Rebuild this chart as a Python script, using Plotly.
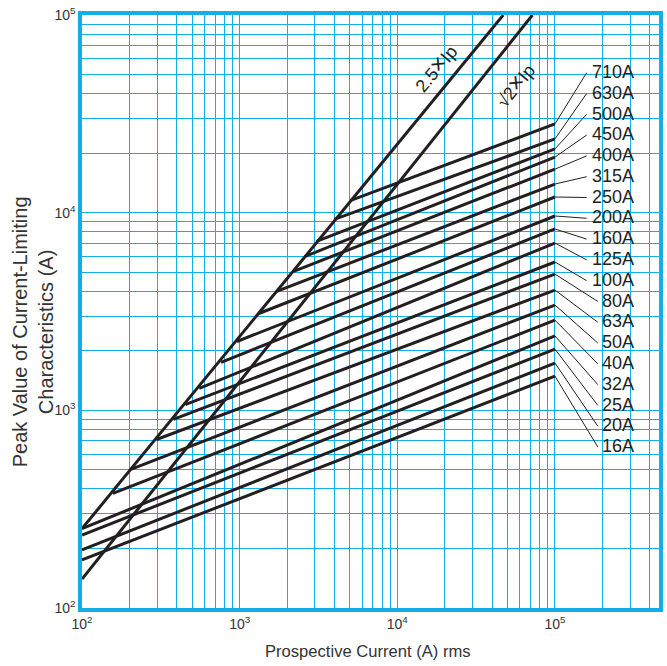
import plotly.graph_objects as go
import numpy as np

# ---------------- data ----------------
ratings = ["710A", "630A", "500A", "450A", "400A", "315A", "250A", "200A", "160A",
           "125A", "100A", "80A", "63A", "50A", "40A", "32A", "25A", "20A", "16A"]
# where each fuse characteristic starts (prospective current, peak current)
start_current = [5025, 3985, 3070, 2580, 2200, 1718, 1324, 961, 762,
                 554, 452, 380, 297, 204, 157, 100, 100, 100, 100]
start_peak = [11500, 9250, 7150, 6000, 5050, 4000, 3090, 2230, 1750,
              1290, 1070, 900, 712, 503, 380, 252, 234, 197, 175]
# where each characteristic ends (at 10^5 A prospective)
end_current = [100000] * 19
end_peak = [28100, 23600, 21000, 19100, 16600, 13960, 12000, 9620, 8270,
            7020, 5630, 4890, 4060, 3410, 2860, 2380, 2040, 1735, 1490]

line25_current = [100, 47000]
line25_peak = [252, 100000]
lineSqrt2_current = [100, 72000]
lineSqrt2_peak = [140, 100000]

decade_ticks = [100, 1000, 10000, 100000]
decade_text = ["10<sup>2</sup>", "10<sup>3</sup>", "10<sup>4</sup>", "10<sup>5</sup>"]

# ---------------- styling ----------------
CYAN = "#12aee8"
INK = "#231f20"
FONT = "Liberation Sans, Arial, sans-serif"

fig = go.Figure()

for i, r in enumerate(ratings):
    fig.add_trace(go.Scatter(
        x=[start_current[i], end_current[i]], y=[start_peak[i], end_peak[i]],
        mode="lines", line=dict(color=INK, width=3), name=r, showlegend=False,
        hoverinfo="skip"))

fig.add_trace(go.Scatter(x=line25_current, y=line25_peak, mode="lines",
                         line=dict(color=INK, width=3), showlegend=False))
fig.add_trace(go.Scatter(x=lineSqrt2_current, y=lineSqrt2_peak, mode="lines",
                         line=dict(color=INK, width=3), showlegend=False))


def minor_vals(hi_val):
    vals = []
    for e in range(2, 7):
        for m in range(2, 10):
            v = m * 10 ** e
            if v <= hi_val:
                vals.append(v)
    return vals


shapes = []
annotations = []
label_x_log = 5.512
for i, r in enumerate(ratings):
    ly_log = 4.712 - i * 0.1052
    annotations.append(dict(x=label_x_log, y=ly_log, xref="x", yref="y",
                            text=r, showarrow=False, xanchor="right", yanchor="middle",
                            font=dict(family=FONT, size=18, color=INK)))
    lead_log = 5.201 if len(r) == 4 else 5.272
    # shapes on log axes take plain data values
    shapes.append(dict(type="line", xref="x", yref="y",
                       x0=end_current[i], y0=end_peak[i],
                       x1=10 ** lead_log, y1=10 ** (ly_log - 0.004),
                       line=dict(color=INK, width=1)))

annotations.append(dict(x=4.237, y=4.732, xref="x", yref="y",
                        text='2.5<span style="font-size:24px">×</span>Ip', showarrow=False,
                        textangle=-50,
                        font=dict(family=FONT, size=18, color=INK)))
annotations.append(dict(x=4.741, y=4.646, xref="x", yref="y",
                        text='√2<span style="font-size:24px">×</span>Ip', showarrow=False,
                        textangle=-51,
                        font=dict(family=FONT, size=18, color=INK)))

annotations.append(dict(x=(370 - 82) / 581, y=(608 - 651) / 593, xref="paper", yref="paper",
                        text="Prospective Current (A) rms", showarrow=False,
                        xanchor="center", yanchor="middle",
                        font=dict(family=FONT, size=16.6, color="#333333")))
annotations.append(dict(x=(33 - 82) / 581, y=(608 - 332) / 593, xref="paper", yref="paper",
                        text="Peak Value of Current-Limiting<br>Characteristics (A)",
                        showarrow=False, textangle=-90, xanchor="center", yanchor="middle",
                        font=dict(family=FONT, size=20, color="#333333")))

axis_common = dict(
    type="log", showgrid=True, gridcolor=CYAN, gridwidth=1.3,
    showline=True, linecolor=CYAN, linewidth=3.5, mirror=True,
    ticks="", zeroline=False, tickvals=decade_ticks, ticktext=decade_text,
    tickfont=dict(family=FONT, size=14, color="#333333"),
)

fig.update_layout(
    width=667, height=666,
    margin=dict(l=82, r=4, t=15, b=58),
    paper_bgcolor="white", plot_bgcolor="white",
    showlegend=False,
    shapes=shapes, annotations=annotations,
    xaxis=dict(range=[2, 5.66],
               minor=dict(tickvals=minor_vals(460000), showgrid=True,
                          gridcolor=CYAN, gridwidth=1.3, ticks=""),
               **axis_common),
    yaxis=dict(range=[2, 5],
               minor=dict(tickvals=minor_vals(100000), showgrid=True,
                          gridcolor=CYAN, gridwidth=1.3, ticks=""),
               **axis_common),
)

fig.write_html("out.html", config={"displayModeBar": False},
               post_script="document.body.style.margin='0px';")
